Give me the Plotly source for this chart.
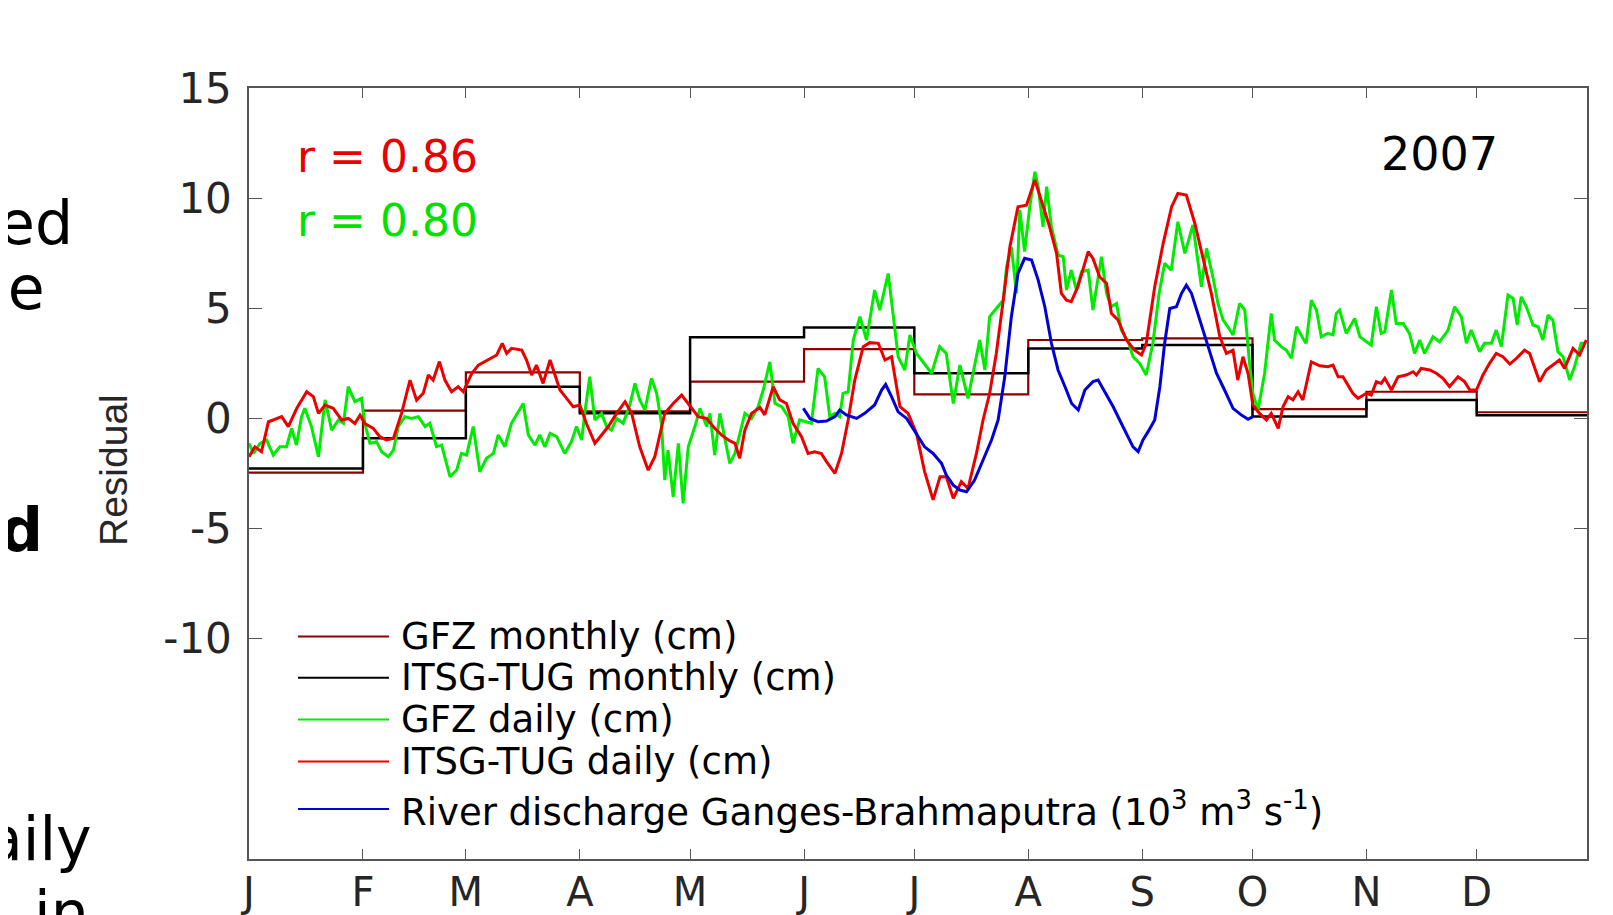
import plotly.graph_objects as go

# ---------------- data ----------------
month_labels = ["J", "F", "M", "A", "M", "J", "J", "A", "S", "O", "N", "D"]
month_start_days = [0, 31, 59, 90, 120, 151, 181, 212, 243, 273, 304, 334]
year_end_day = 364
y_tick_vals = [-10, -5, 0, 5, 10, 15]

gfz_monthly = [-2.46, 0.35, 2.09, 0.32, 1.67, 3.15, 1.09, 3.56, 3.63, 0.42, 1.21, 0.28]
itsg_monthly = [-2.27, -0.90, 1.44, 0.23, 3.68, 4.13, 2.05, 3.18, 3.33, 0.09, 0.84, 0.14]

itsg_daily_days = [0, 1.6, 3.4, 5.3, 6.6, 8.9, 10.7, 13, 15.7, 17.5, 18.9, 20.7, 22.9, 25.2, 27, 28.8,
                   30.2, 31.5, 33.8, 35.6, 37.4, 39.3, 41.5, 43.8, 45.6, 47.4, 48.8, 50.1, 51.8, 53.3,
                   55.1, 56.9, 58.3, 60.6, 62.4, 64.2, 66, 67.4, 68.9, 70.1, 71.4, 74.2, 75.5, 76.9,
                   78.2, 80, 81.9, 83.2, 84.6, 86.4, 88.2, 90, 91.8, 94.1, 95.9, 97.7, 100, 102.3,
                   104.1, 106.3, 108.6, 110.4, 113.1, 115.4, 117.7, 120, 122.2, 124.5, 126.7, 128.6,
                   130.4, 132.2, 133.5, 134.9, 136.7, 139, 140.3, 142.6, 144.4, 146.2, 148, 150.3,
                   152.1, 153.9, 155.7, 157.1, 159.4, 161.2, 163, 164.8, 167.1, 168.9, 171.2, 173,
                   174.8, 177.1, 179.3, 181.6, 183.8, 186.1, 188, 189.7, 191.6, 193.8, 195.6, 197.9,
                   199.7, 201.5, 203.3, 205.2, 207, 209.2, 211.5, 213.8, 216, 217.8, 219.7, 221,
                   222.4, 223.7, 225.5, 228.3, 229.6, 231.4, 233.3, 234.6, 236.4, 238.7, 240.9,
                   242.8, 244.1, 246.4, 248.7, 251, 252.7, 255, 257.3, 259.5, 261.8, 264.1, 265.9,
                   267.7, 269, 270.4, 271.8, 273.1, 274.9, 276.8, 278.1, 280, 281.3, 282.7, 284,
                   285.4, 286.7, 289, 291.3, 293.5, 294.9, 296.3, 297.6, 300.3, 301.7, 304, 305.3,
                   306.7, 308, 309, 310.8, 312.6, 314.8, 316.7, 317.6, 318.9, 321.2, 323, 324.8,
                   326.6, 328.9, 330.7, 332.1, 333.9, 335.7, 337.5, 339.3, 341.1, 343, 344.8, 347,
                   348.4, 349.7, 351.1, 352.9, 354.7, 356.5, 357.9, 360.2, 362, 363.8]
itsg_daily_vals = [-1.74, -1.29, -1.51, -0.15, -0.07, 0.08, -0.37, 0.46, 1.21, 0.99, 0.23, 0.61, 0.46,
                   -0.07, 0.0, -0.23, 0.15, -0.23, -0.45, -0.83, -0.98, -0.90, 0.23, 1.74, 0.83, 1.14,
                   1.97, 1.74, 2.58, 1.74, 1.21, 1.44, 1.21, 2.04, 2.42, 2.58, 2.73, 2.88, 3.41, 2.95,
                   3.18, 3.10, 2.65, 1.97, 2.42, 1.59, 2.65, 2.04, 1.29, 0.91, 0.53, 0.61, -0.23,
                   -1.13, -0.76, -0.38, 0.23, 0.76, 0.23, -1.29, -2.35, -1.74, 0.23, 0.68, 1.06, 0.53,
                   0.08, 0.0, -0.45, -0.76, -0.98, -1.13, -1.81, -0.53, 0.23, 0.50, 0.16, 1.44, 0.84,
                   0.68, -0.22, -0.83, -1.59, -1.51, -1.59, -1.96, -2.49, -1.59, -0.07, 1.74, 3.26,
                   3.44, 3.41, 2.65, 2.80, 0.53, 0.23, -0.68, -2.42, -3.70, -2.65, -2.65, -3.63, -2.87,
                   -3.18, -1.59, -0.07, 1.14, 2.95, 5.37, 7.79, 9.61, 9.68, 10.82, 9.61, 8.70, 7.49,
                   5.68, 5.37, 5.30, 5.98, 7.57, 7.26, 6.43, 6.13, 4.77, 4.47, 3.56, 3.10, 2.88, 3.41,
                   5.98, 7.95, 9.61, 10.21, 10.14, 8.86, 7.35, 5.68, 3.71, 2.95, 3.10, 1.74, 2.80,
                   2.04, 0.61, 0.23, -0.07, 0.23, -0.45, 0.53, 0.99, 0.84, 1.21, 0.84, 2.57, 2.39,
                   2.35, 2.42, 1.89, 1.89, 1.14, 0.91, 1.14, 1.06, 1.67, 1.59, 1.82, 1.29, 1.89, 1.97,
                   2.12, 1.97, 2.27, 2.20, 2.05, 1.82, 1.44, 1.89, 1.67, 1.29, 1.29, 1.97, 2.50, 2.95,
                   2.80, 2.47, 2.73, 3.10, 2.95, 2.35, 1.67, 2.20, 2.42, 2.65, 2.27, 3.18, 2.88, 3.56]

gfz_daily_days = [0, 1.2, 3, 4.8, 6.6, 8.4, 10.2, 11.6, 12.9, 14.3, 15.2, 17, 18.9, 20.7, 22.5, 24.3,
                  25.7, 27, 28.8, 30.6, 31.5, 32.9, 34.7, 36.1, 37.9, 39.3, 40.6, 42.4, 44.2, 46.1,
                  47.9, 49.2, 51, 52.4, 54.7, 56.5, 57.8, 59.2, 61, 62.8, 64.6, 66.5, 67.8, 69.6,
                  71.4, 72.8, 74.6, 76, 77.8, 79.1, 80.5, 81.9, 83.7, 85.9, 87.7, 89.1, 90.5, 91.4,
                  92.7, 94.1, 95.9, 97.3, 98.6, 100, 101.8, 103.6, 105, 106.3, 107.7, 109.5, 110.9,
                  112.2, 113.1, 114, 115.4, 116.8, 118.1, 119.5, 121.3, 122.7, 124.5, 125.4, 126.7,
                  128.1, 129.5, 130.8, 132.2, 133.5, 134.9, 136.7, 138.5, 139.9, 141.7, 143.1, 144.9,
                  146.7, 148, 149.8, 151.7, 153, 154.8, 156.6, 158, 159.4, 160.7, 161.6, 163, 164.4,
                  166.2, 168, 170.2, 171.6, 173.9, 175.2, 176.6, 178.4, 179.8, 181.6, 183.4, 185.7,
                  187.9, 189.7, 191.6, 193.4, 195.6, 197.5, 198.8, 200.2, 201.5, 203.3, 205.2, 206.1,
                  207.4, 208.8, 209.7, 211, 212.4, 213.8, 214.7, 216, 217, 218.3, 220.1, 221.5,
                  222.4, 223.7, 225.1, 226.5, 228.3, 229.6, 231.9, 233.3, 234.6, 236, 237.3, 239.2,
                  240.5, 242.3, 244.1, 245.9, 247.6, 249.1, 250.9, 252.7, 254.6, 256.8, 259.1, 260.5,
                  262.3, 263.6, 265, 266.3, 267.7, 269.5, 270.9, 272.2, 273.1, 274.5, 276.3, 278.1,
                  279, 280.8, 282.2, 283.6, 285, 286.7, 287.6, 289, 290.4, 291.7, 293.5, 294.9, 295.8,
                  296.7, 298.5, 300.8, 302.2, 304, 305.3, 306.7, 308, 309, 310.8, 312.1, 314, 315.7,
                  317.1, 318.5, 319.8, 322.1, 323.9, 326.2, 328, 329.8, 331.2, 332.5, 334.8, 336.1,
                  338, 339.3, 340.7, 342.5, 343.9, 345, 346.1, 347.5, 349.3, 350.7, 352, 353.4,
                  354.7, 356.1, 357.5, 359.3, 360.6, 362.4, 363.8]
gfz_daily_vals = [-1.13, -1.59, -1.13, -0.98, -1.66, -1.28, -1.28, -0.45, -1.21, 0.08, 0.46, -0.37,
                  -1.74, 0.84, -0.53, -0.07, -0.22, 1.44, 0.76, 0.91, -0.22, -1.13, -1.06, -1.51,
                  -1.74, -1.44, -0.37, 0.08, 0.0, 0.08, -0.37, -0.22, -1.28, -1.21, -2.65, -2.34,
                  -1.59, -1.66, -0.37, -2.42, -1.81, -1.59, -0.75, -1.29, -0.22, 0.15, 0.68, -0.75,
                  -1.21, -0.75, -1.29, -0.68, -0.83, -1.59, -1.06, -0.37, -0.98, 0.30, 1.89, -0.07,
                  0.23, -0.37, -0.53, 0.0, -0.22, 0.61, 1.59, 0.84, 0.38, 1.82, 1.14, -0.22, -2.80,
                  -1.44, -3.56, -1.13, -3.86, -1.29, -0.37, 0.46, -0.37, 0.23, -1.66, 0.23, -0.98,
                  -2.04, -1.59, -0.76, 0.23, 0.0, 0.53, 1.29, 2.57, 0.68, 0.53, 0.08, -1.13, -0.07,
                  -0.15, -0.22, 2.27, 1.89, 0.08, 0.23, 0.08, 1.14, 1.21, 3.56, 4.62, 3.56, 5.83,
                  4.92, 6.58, 4.62, 2.80, 2.20, 3.79, 2.95, 2.57, 2.05, 3.26, 2.95, 0.68, 2.42, 0.91,
                  2.50, 3.56, 2.20, 4.62, 4.99, 5.37, 6.89, 7.79, 5.68, 9.46, 7.57, 9.61, 11.2, 10.52,
                  8.70, 10.52, 8.70, 7.41, 7.34, 5.83, 6.73, 5.83, 6.66, 6.73, 4.92, 7.34, 5.68, 5.07,
                  5.22, 4.01, 3.48, 2.80, 2.50, 1.97, 3.41, 5.68, 7.04, 6.73, 8.93, 7.49, 8.78, 5.98,
                  7.72, 6.36, 5.22, 4.47, 4.16, 3.79, 5.22, 4.92, 2.50, 1.14, 0.38, 2.05, 4.77, 3.56,
                  3.26, 3.10, 2.73, 4.16, 3.64, 3.41, 5.37, 4.92, 3.71, 3.86, 3.79, 4.77, 4.92, 3.86,
                  4.54, 3.71, 3.48, 3.33, 5.07, 3.86, 3.94, 5.83, 4.31, 4.31, 3.86, 2.95, 3.56, 2.95,
                  3.71, 3.48, 4.01, 5.07, 4.62, 3.41, 4.01, 3.03, 3.41, 3.41, 4.01, 3.26, 5.60, 5.45,
                  4.24, 5.52, 5.07, 4.24, 4.16, 3.56, 4.69, 4.47, 3.03, 2.80, 1.74, 2.35, 3.41, 3.41]

river_days = [150.8, 152.6, 154.8, 157.1, 159.4, 160.7, 162.5, 165.3, 167.5, 170.2, 172.1, 173.2,
              174.8, 176.6, 178.9, 181.6, 183.8, 186.1, 188.4, 189.7, 191.6, 193.4, 195.2, 197.4,
              199.7, 202, 203.8, 205.6, 207.4, 209.2, 211, 212.9, 214.7, 216.5, 218.3, 220.1, 222,
              223.8, 225.6, 227.4, 229.6, 231, 233.3, 235.1, 237.3, 239.2, 240.5, 241.9, 243.2,
              244.6, 246.4, 247.8, 249.1, 250.5, 252.3, 253.7, 255, 256.4, 258.6, 260.9, 263.2,
              265.4, 267.7, 270, 271.8, 273.1]
river_vals = [0.46, 0.0, -0.15, -0.12, 0.08, 0.38, 0.16, 0.0, 0.23, 0.61, 1.29, 1.54, 0.99, 0.30,
              0.0, -0.68, -1.29, -1.59, -2.04, -2.57, -3.03, -3.25, -3.33, -2.80, -1.89, -0.98,
              -0.07, 1.89, 4.62, 6.58, 7.27, 7.19, 6.28, 5.07, 3.41, 2.20, 1.44, 0.68, 0.38, 1.29,
              1.67, 1.74, 1.06, 0.53, -0.22, -0.83, -1.29, -1.51, -0.98, -0.60, -0.07, 1.44, 3.41,
              4.99, 5.07, 5.68, 6.05, 5.68, 4.47, 3.26, 2.05, 1.29, 0.46, 0.15, -0.04, 0.08]

legend_labels = ["GFZ monthly (cm)", "ITSG-TUG monthly (cm)", "GFZ daily (cm)", "ITSG-TUG daily (cm)",
                 "River discharge Ganges-Brahmaputra (10<sup>3</sup> m<sup>3</sup> s<sup>-1</sup>)"]
colors = ["rgb(140,0,0)", "black", "rgb(0,235,0)", "rgb(235,0,0)", "rgb(0,0,215)"]

# ---------------- layout geometry ----------------
# the page body has an 8px margin, so the figure is 8px smaller than the window
OFF = 8
W, H = 1613 - OFF, 915 - OFF
L, R, T, B = 249 - OFF, 26, 88 - OFF, 56
PW, PH = W - L - R, H - T - B
PLOT_LEFT_PAGE = L + OFF
PLOT_BOTTOM_PAGE = H - B + OFF


def px(x):  # page x pixel -> paper coordinate
    return (x - PLOT_LEFT_PAGE) / PW


def py(y):  # page y pixel -> paper coordinate
    return (PLOT_BOTTOM_PAGE - y) / PH


FONT = "DejaVu Sans"
TXT = "#262626"

fig = go.Figure()
step_x = month_start_days + [year_end_day]
fig.add_trace(go.Scatter(x=step_x, y=gfz_monthly + [gfz_monthly[-1]], mode="lines", line_shape="hv",
                         name=legend_labels[0], line=dict(color=colors[0], width=2.2)))
fig.add_trace(go.Scatter(x=step_x, y=itsg_monthly + [itsg_monthly[-1]], mode="lines", line_shape="hv",
                         name=legend_labels[1], line=dict(color=colors[1], width=2.5)))
fig.add_trace(go.Scatter(x=gfz_daily_days, y=gfz_daily_vals, mode="lines", name=legend_labels[2],
                         line=dict(color=colors[2], width=3)))
fig.add_trace(go.Scatter(x=itsg_daily_days, y=itsg_daily_vals, mode="lines", name=legend_labels[3],
                         line=dict(color=colors[3], width=3)))
fig.add_trace(go.Scatter(x=river_days, y=river_vals, mode="lines", name=legend_labels[4],
                         line=dict(color=colors[4], width=3)))

annotations = []
shapes = []

# manual legend
legend_y = [636.5, 677.8, 719.5, 761.5, 809]
for lab, col, yy in zip(legend_labels, colors, legend_y):
    shapes.append(dict(type="line", xref="paper", yref="paper", x0=px(298), x1=px(389),
                       y0=py(yy), y1=py(yy), line=dict(color=col, width=2)))
    annotations.append(dict(text=lab, xref="paper", yref="paper", x=px(399), y=py(yy),
                            xanchor="left", yanchor="middle", showarrow=False,
                            font=dict(family=FONT, size=37, color="black")))

# correlation labels and year
annotations.append(dict(text="r = 0.86", xref="paper", yref="paper", x=px(295), y=py(156.5),
                        xanchor="left", yanchor="middle", showarrow=False,
                        font=dict(family=FONT, size=44, color="rgb(235,0,0)")))
annotations.append(dict(text="r = 0.80", xref="paper", yref="paper", x=px(295), y=py(220.5),
                        xanchor="left", yanchor="middle", showarrow=False,
                        font=dict(family=FONT, size=44, color="rgb(0,225,0)")))
annotations.append(dict(text="2007", xref="paper", yref="paper", x=px(1500), y=py(154),
                        xanchor="right", yanchor="middle", showarrow=False,
                        font=dict(family=FONT, size=46, color="black")))

# y axis title
annotations.append(dict(text="Residual", xref="paper", yref="paper", x=px(113), y=py(470),
                        xanchor="center", yanchor="middle", showarrow=False, textangle=-90,
                        font=dict(family="Liberation Sans", size=39, color=TXT)))

# fragments of the surrounding slide text (clipped at the left edge)
fragments = [("ed", 75, 244, False), ("le", 47, 309, False), ("d", 45, 551, True),
             ("aily", 94, 860, False), ("in", 91, 934, False)]
for txt, right_x, base_y, bold in fragments:
    s = 60
    annotations.append(dict(text=("<b>%s</b>" % txt) if bold else txt, xref="paper", yref="paper",
                            x=px(right_x), y=py(base_y - 0.346 * s), xanchor="right", yanchor="middle",
                            showarrow=False, font=dict(family=FONT, size=s, color="black")))

axis_common = dict(showline=True, linecolor="#555555", linewidth=1.5, mirror="ticks",
                   ticks="inside", tickcolor="#555555", tickwidth=1.3, showgrid=False, zeroline=False)

fig.update_layout(
    width=W, height=H,
    margin=dict(l=L, r=R, t=T, b=B, autoexpand=False),
    paper_bgcolor="white", plot_bgcolor="white",
    showlegend=False,
    xaxis=dict(range=[0, year_end_day], tickmode="array", tickvals=month_start_days, ticktext=month_labels,
               ticklen=10, tickfont=dict(family=FONT, size=40, color=TXT), ticklabelstandoff=-3,
               **axis_common),
    yaxis=dict(range=[-20, 15], tickmode="array", tickvals=y_tick_vals,
               ticktext=[str(v) if v >= 0 else "-" + str(-v) for v in y_tick_vals],
               ticklen=13, tickfont=dict(family=FONT, size=42, color=TXT), ticklabelstandoff=7,
               **axis_common),
    annotations=annotations,
    shapes=shapes,
)

fig.write_html("out.html")
